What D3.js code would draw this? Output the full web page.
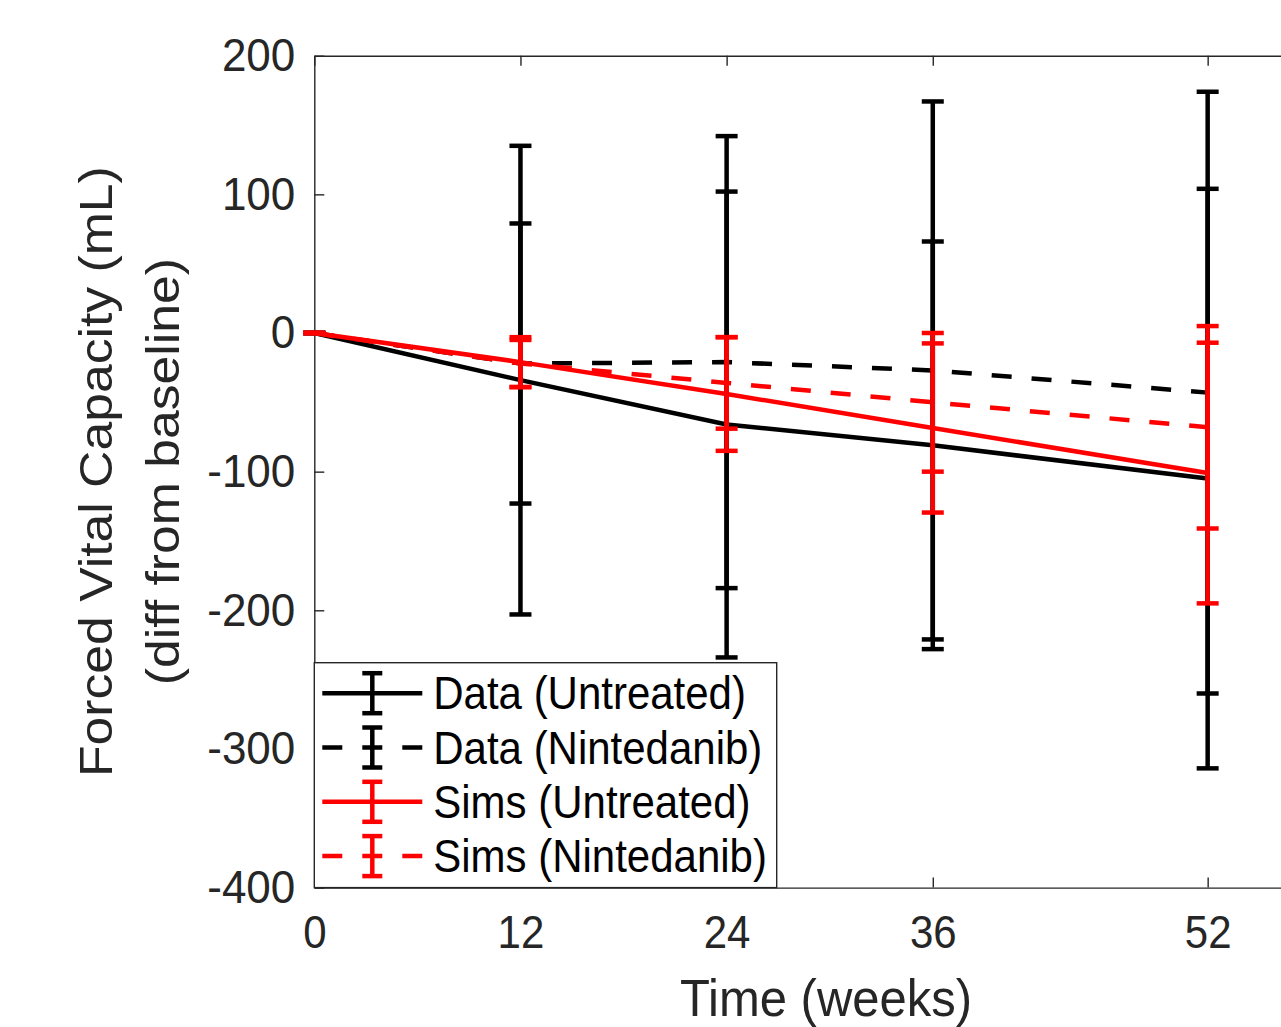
<!DOCTYPE html>
<html>
<head>
<meta charset="utf-8">
<script src="https://cdn.jsdelivr.net/npm/d3@7"></script>
<style>
  body { margin: 0; background: #fff; }
  svg { display: block; }
</style>
</head>
<body>
<svg id="chart" width="1281" height="1027"></svg>
<script>
// Values
var weeks = [0, 12, 24, 36, 52];
var xTickVals = [0, 12, 24, 36, 52];
var yTickVals = [200, 100, 0, -100, -200, -300, -400];

var dataUntreated = [0, -34, -66, -81, -105];
var dataUntreatedErr = [0, 169, 168, 147, 209];
var dataNintedanib = [0, -22, -21, -27, -43];
var dataNintedanibErr = [0, 101, 163, 194, 217];
var simsUntreated = [0, -21, -44, -68.5, -101];
var simsUntreatedErr = [0, 18, 41, 61, 94];
var simsNintedanib = [0, -22, -36, -50, -68];
var simsNintedanibErr = [0, 17, 33, 50, 73];

var seriesNames = ['Data (Untreated)', 'Data (Nintedanib)', 'Sims (Untreated)', 'Sims (Nintedanib)'];

var axisColor = '#262626';
var font = '"Liberation Sans", Arial, Helvetica, sans-serif';
var stretch = 1.1; // the original is a bit taller than wide

var series = [
  { name: seriesNames[0], mean: dataUntreated, err: dataUntreatedErr, color: '#000', dash: null },
  { name: seriesNames[1], mean: dataNintedanib, err: dataNintedanibErr, color: '#000', dash: '20,20' },
  { name: seriesNames[2], mean: simsUntreated, err: simsUntreatedErr, color: '#ff0000', dash: null },
  { name: seriesNames[3], mean: simsNintedanib, err: simsNintedanibErr, color: '#ff0000', dash: '20,20' }
];

var svg = d3.select('#chart');

// scales
var x = d3.scaleLinear().domain([0, 60]).range([314.3, 314.3 + 60 * 17.18]);
var y = d3.scaleLinear().domain([-400, 200]).range([887.6, 55.7]);

var lineW = 4.5, capHalf = 11;

/* Axes */
var yAxis = svg.append('g')
  .attr('transform', 'translate(' + x(0) + ',0)')
  .call(d3.axisLeft(y).tickValues(yTickVals).tickSizeInner(-10).tickSizeOuter(0)
    .tickPadding(19).tickFormat(function(d) { return String(d); }));

var xAxis = svg.append('g')
  .attr('transform', 'translate(0,' + y(-400) + ')')
  .call(d3.axisBottom(x).tickValues(xTickVals).tickSizeInner(-10).tickSizeOuter(0)
    .tickPadding(25).tickFormat(function(d) { return String(d); }));

var xTop = svg.append('g')
  .attr('transform', 'translate(0,' + y(200) + ')')
  .call(d3.axisTop(x).tickValues(xTickVals).tickSizeInner(-10).tickSizeOuter(0).tickFormat(''));

[yAxis, xAxis, xTop].forEach(function(a) {
  a.select('.domain').attr('stroke', axisColor).attr('stroke-width', 1.4);
  a.selectAll('.tick line').attr('stroke', axisColor).attr('stroke-width', 1.4);
  a.selectAll('.tick text')
    .attr('fill', axisColor)
    .style('font-family', font)
    .style('font-size', '42px')
    .attr('transform', 'scale(1,' + stretch + ')');
});
// y tick labels are a touch wider in the original
yAxis.selectAll('.tick text')
  .style('font-size', '44px')
  .attr('transform', 'scale(1,1.05)');

/* Data */
var line = d3.line()
  .x(function(d) { return x(d.w); })
  .y(function(d) { return y(d.v); });

series.forEach(function(s) {
  var pts = weeks.map(function(w, i) { return { w: w, v: s.mean[i], e: s.err[i] }; });
  var g = svg.append('g');

  g.append('path')
    .datum(pts)
    .attr('d', line)
    .attr('fill', 'none')
    .attr('stroke', s.color)
    .attr('stroke-width', lineW)
    .attr('stroke-dasharray', s.dash);

  var bars = g.selectAll('g.bar').data(pts).enter().append('g').attr('class', 'bar');
  bars.append('line')
    .attr('x1', function(d) { return x(d.w); })
    .attr('x2', function(d) { return x(d.w); })
    .attr('y1', function(d) { return y(d.v + d.e); })
    .attr('y2', function(d) { return y(d.v - d.e); });
  bars.append('line')
    .attr('x1', function(d) { return x(d.w) - capHalf; })
    .attr('x2', function(d) { return x(d.w) + capHalf; })
    .attr('y1', function(d) { return y(d.v + d.e); })
    .attr('y2', function(d) { return y(d.v + d.e); });
  bars.append('line')
    .attr('x1', function(d) { return x(d.w) - capHalf; })
    .attr('x2', function(d) { return x(d.w) + capHalf; })
    .attr('y1', function(d) { return y(d.v - d.e); })
    .attr('y2', function(d) { return y(d.v - d.e); });
  bars.selectAll('line')
    .attr('stroke', s.color)
    .attr('stroke-width', lineW);
});

/* Legend */
var leg = svg.append('g');
var legX = x(0), legY = 662.7, legW = 462.4, legH = y(-400) - legY;
leg.append('rect')
  .attr('x', legX).attr('y', legY)
  .attr('width', legW).attr('height', legH)
  .attr('fill', '#fff')
  .attr('stroke', axisColor)
  .attr('stroke-width', 1.4);

var rows = leg.selectAll('g.row').data(series).enter().append('g')
  .attr('class', 'row')
  .attr('transform', function(d, i) { return 'translate(' + legX + ',' + (legY + 30.5 + i * 54.3) + ')'; });

rows.append('line')
  .attr('x1', 8).attr('x2', 108).attr('y1', 0).attr('y2', 0)
  .attr('stroke', function(d) { return d.color; })
  .attr('stroke-width', lineW)
  .attr('stroke-dasharray', function(d) { return d.dash; });
rows.append('line')
  .attr('x1', 58).attr('x2', 58).attr('y1', -20).attr('y2', 20);
rows.append('line')
  .attr('x1', 58 - capHalf + 1).attr('x2', 58 + capHalf - 1).attr('y1', -20).attr('y2', -20);
rows.append('line')
  .attr('x1', 58 - capHalf + 1).attr('x2', 58 + capHalf - 1).attr('y1', 20).attr('y2', 20);
rows.selectAll('line:not(:first-child)')
  .attr('stroke', function() { return d3.select(this.parentNode).datum().color; })
  .attr('stroke-width', lineW);

rows.append('text')
  .attr('transform', 'translate(119,16) scale(1,' + stretch + ')')
  .style('font-family', font)
  .style('font-size', '42px')
  .attr('fill', '#000')
  .text(function(d) { return d.name; });

/* Axis labels */
svg.append('text')
  .attr('transform', 'translate(826,1016) scale(1,1.04)')
  .attr('text-anchor', 'middle')
  .style('font-family', font)
  .style('font-size', '49px')
  .attr('fill', axisColor)
  .text('Time (weeks)');

var yMid = (y(200) + y(-400)) / 2;
var yLabel = ['Forced Vital Capacity (mL)', '(diff from baseline)'];
svg.selectAll('text.ylab').data(yLabel).enter().append('text')
  .attr('class', 'ylab')
  .attr('transform', function(d, i) {
    return 'translate(' + (112 + i * 67) + ',' + yMid + ') scale(1,' + stretch + ') rotate(-90)';
  })
  .attr('text-anchor', 'middle')
  .style('font-family', font)
  .style('font-size', '47px')
  .attr('fill', axisColor)
  .text(function(d) { return d; });
</script>
</body>
</html>
